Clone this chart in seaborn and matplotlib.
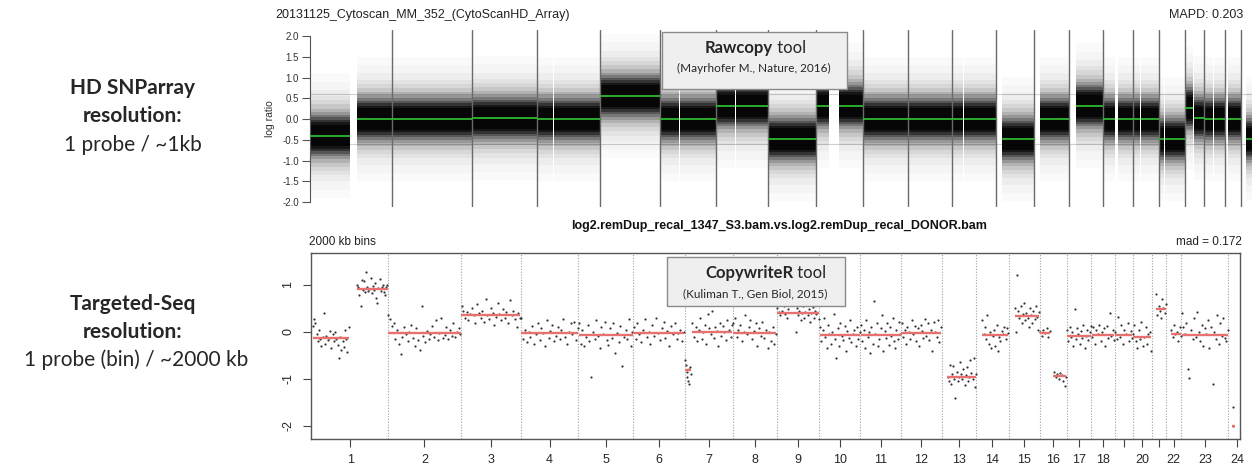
import numpy as np
import pandas as pd
import seaborn as sns
import matplotlib.pyplot as plt
from matplotlib.patches import Rectangle

sns.set_style("white")
plt.rcParams['font.family'] = ['Liberation Sans', 'DejaVu Sans']
LABEL_FONT = ['Lato', 'DejaVu Sans']

# chromosome sizes in Mb (1..22, X=23, Y=24)
chrom_len = [249, 243, 198, 191, 181, 171, 159, 146, 141, 136, 135, 134,
             115, 107, 103, 90, 81, 78, 59, 63, 48, 51, 155, 59]
chrom_labels = ['1', '2', '3', '4', '5', '6', '7', '8', '9', '10', '11', '12',
                '13', '14', '15', '16', '17', '18', '', '20', '', '22', '23', '24']

# --- top panel: SNP array segments (chrom, start Mb, end Mb, log ratio)
top_chr = [1, 1, 2, 2, 3, 3, 4, 4, 5, 5, 6, 6, 7, 7, 8, 8, 9, 9, 10, 10, 11, 11,
           12, 12, 13, 14, 15, 16, 16, 17, 17, 18, 18, 19, 19, 20, 20, 21, 22]
top_start = [0, 143, 0, 94, 0, 92, 0, 51, 0, 49, 0, 61, 0, 61, 0, 46, 0, 70, 0, 41, 0, 54,
             0, 37, 19, 19, 20, 0, 46, 0, 26, 0, 18, 0, 28, 0, 29, 10, 16]
top_end = [121, 249, 92, 243, 90, 198, 49, 191, 47, 181, 59, 171, 59, 159, 44, 146, 39, 141,
           39, 136, 52, 135, 35, 134, 115, 107, 103, 36, 90, 24, 81, 16, 78, 24, 59, 27, 63, 48, 51]
top_mean = [-0.40, 0.0, 0.0, 0.0, 0.02, 0.02, 0.0, 0.0, 0.55, 0.55, 0.0, 0.0, 0.32, 0.32,
            -0.48, -0.48, 0.32, 0.32, 0.0, 0.0, 0.0, 0.0, 0.0, 0.0, -0.48, 0.0, 0.32,
            0.0, 0.0, 0.0, 0.0, -0.48, -0.48, 0.27, 0.02, 0.0, 0.0, 0.0, -0.48]

# --- bottom panel: 2000 kb bin values per chromosome arm
bins_1p = [0.12, 0.28, 0.2, -0.05, -0.2, 0.05, -0.15, -0.3, -0.1, 0.4, -0.25, -0.08, -0.18, -0.12, 0.02,
           -0.35, -0.05, -0.2, 0.0, -0.15, -0.28, -0.55, -0.1, -0.38, -0.2, -0.32, 0.05, -0.15, -0.42, 0.1]
bins_1q = [1.0, 0.95, 0.78, 0.55, 1.1, 0.9, 1.08, 0.85, 1.27, 0.95, 0.88, 0.92, 1.15, 0.82, 0.97, 0.9,
           1.05, 0.72, 0.62, 0.93, 1.12, 0.88, 0.96, 1.0, 0.85, 0.78, 0.95, 1.0]
bins_2 = [0.35, 0.28, 0.12, 0.2, -0.15, 0.05, -0.25, -0.48, -0.1, 0.1, -0.05, -0.2, 0.0, 0.15, -0.12,
          -0.3, 0.08, -0.18, -0.38, 0.55, -0.08, -0.22, 0.02, -0.15, -0.05, 0.12, -0.1, 0.25, -0.18,
          -0.02, 0.3, -0.12, -0.06, 0.1, -0.15, 0.05, -0.08, 0.18, -0.1, 0.0, 0.08, -0.05]
bins_3 = [0.55, 0.45, 0.3, 0.42, 0.25, 0.38, 0.5, 0.35, 0.18, 0.6, 0.4, 0.3, 0.45, 0.22, 0.7, 0.35,
          0.28, 0.5, 0.4, 0.15, 0.32, 0.62, 0.38, 0.25, 0.48, 0.3, 0.42, 0.2, 0.68, 0.35, 0.45, 0.28,
          0.1, 0.4, 0.3]
bins_4 = [0.3, -0.15, 0.05, -0.22, 0.0, -0.1, 0.12, -0.25, -0.05, 0.2, -0.18, 0.08, -0.02, -0.3, 0.25,
          -0.12, 0.02, 0.15, -0.2, -0.08, 0.1, -0.15, 0.05, 0.28, -0.1, -0.25, 0.0, 0.18, -0.05, 0.22,
          -0.18, 0.08]
bins_5 = [0.2, -0.25, 0.05, -0.3, -0.1, 0.15, -0.2, -0.95, 0.0, -0.15, 0.25, -0.08, -0.35, 0.1, -0.05,
          0.22, -0.18, -0.28, 0.08, -0.12, 0.18, -0.45, -0.02, -0.22, 0.12, -0.73, -0.1, 0.05, -0.15,
          0.27, -0.3, 0.0]
bins_6 = [0.1, -0.15, 0.2, -0.05, -0.22, 0.05, 0.28, -0.1, 0.0, -0.25, 0.15, -0.08, 0.3, -0.02, -0.18,
          0.08, 0.22, -0.12, 0.02, -0.3, 0.12, -0.05, 0.18, -0.15, -0.02, 0.05, -0.2, 0.0]
bins_7a = [-0.6, -0.7, -0.85, -0.95, -1.05, -0.8, -1.1, -0.75, -0.9]
bins_7b = [0.2, -0.1, 0.1, -0.2, 0.05, 0.3, -0.15, 0.0, 0.15, -0.25, 0.38, 0.08, -0.05, 0.45, -0.12,
           0.1, 0.02, -0.3, 0.2, -0.08, 0.12, 0.0, -0.18, 0.25, 0.05, -0.1, 0.15]
bins_8 = [0.2, 0.3, -0.1, 0.05, 0.15, -0.2, 0.0, 0.35, -0.05, 0.1, 0.25, -0.15, 0.02, 0.18, -0.3, 0.08,
          -0.08, 0.22, -0.12, 0.05, -0.35, 0.0, -0.2, 0.1, -0.25, -0.05]
bins_9p = [0.5, 0.42, 0.35, 0.45, 0.55, 0.38, 0.3, 0.48]
bins_9q = [0.0, 0.5, 0.35, 0.45, 0.25, 0.4, 0.55, 0.3, 0.42, 0.6, 0.35, 0.48, 0.22, 0.4, 0.52, 0.3,
           0.45, 0.38, 0.6, 0.28]
bins_10 = [0.1, -0.2, 0.05, 0.3, -0.1, -0.35, 0.15, -0.05, -0.25, 0.0, 0.38, -0.15, -0.55, 0.08, -0.3,
           0.2, -0.08, -0.18, 0.12, -0.4, 0.02, -0.12, 0.25, -0.22, -0.05, 0.05, -0.3, 0.1, -0.15, 0.0]
bins_11 = [0.15, -0.2, 0.05, -0.35, 0.25, -0.1, 0.0, -0.45, 0.1, -0.25, 0.65, -0.05, 0.2, -0.3, -0.15,
           0.08, 0.35, -0.4, 0.02, -0.12, 0.18, -0.28, 0.1, -0.08, 0.3, -0.2, -0.35, 0.05, -0.15, 0.22,
           -0.05]
bins_12 = [0.2, -0.1, 0.05, -0.25, 0.1, 0.0, -0.15, 0.25, -0.05, 0.12, -0.2, 0.08, -0.3, 0.15, 0.02,
           -0.12, 0.28, -0.08, 0.18, -0.18, 0.05, -0.4, 0.22, 0.0, -0.1, 0.25, -0.22, 0.1]
bins_13 = [-0.95, -1.05, -0.7, -1.1, -0.9, -0.72, -1.0, -1.4, -0.85, -1.05, -0.95, -0.65, -0.9, -1.0,
           -0.8, -1.12, -0.92, -0.75, -1.05, -0.95, -0.6, -0.88, -1.0, -0.55, -1.18, -0.9]
bins_14 = [0.25, -0.05, 0.1, -0.15, 0.35, -0.25, 0.0, -0.35, -0.08, 0.05, -0.3, 0.15, -0.4, -0.1, -0.2,
           0.02, -0.05, 0.1, -0.15, 0.08, -0.02]
bins_15 = [0.5, 0.0, 1.22, 0.45, 0.3, 0.55, 0.2, 0.38, 0.62, 0.25, 0.4, 0.3, 0.1, 0.5, 0.35, 0.18, 0.45,
           0.28, 0.55, 0.32, 0.05, 0.42]
bins_16p = [0.0, -0.08, 0.05, -0.02, 0.08, -0.1, 0.02]
bins_16q = [-0.85, -0.95, -0.9, -1.0, -0.88, -0.92, -1.05, -1.15, -0.95]
bins_17 = [0.05, -0.2, 0.1, -0.1, 0.0, -0.3, 0.48, -0.15, 0.08, -0.05, -0.25, 0.02, -0.12, 0.15, -0.35,
           -0.08, 0.05, -0.18, 0.0, 0.12]
bins_18 = [-0.1, 0.1, -0.25, 0.05, -0.05, 0.15, -0.2, 0.0, 0.08, -0.3, 0.12, -0.12, 0.4, -0.08, 0.05, -0.18]
bins_19 = [0.0, -0.15, 0.32, -0.1, 0.15, -0.25, 0.05, -0.05, 0.2, -0.2, 0.02, -0.12]
bins_20 = [-0.05, 0.15, -0.2, -0.35, 0.05, -0.15, 0.22, -0.3, -0.1, 0.1, -0.25, -0.05, 0.0, -0.4]
bins_21 = [0.8, 0.35, 0.55, 0.45, 0.3, 0.7, 0.5, 0.4, 0.6]
bins_22 = [0.05, -0.1, 0.15, -0.05, 0.0, -0.2, 0.1, -0.08]
bins_X = [0.4, 0.1, -0.05, 0.2, -0.79, -0.98, 0.05, -0.15, 0.3, -0.1, 0.43, 0.0, -0.2, 0.15, -0.3, 0.08,
          -0.05, 0.25, -0.35, 0.1, -1.11, 0.0, -0.15, 0.37, -0.25, 0.2, -0.08, 0.3, -0.12, -0.2, 0.05]
bins_Y = [-1.6, -2.0]

# (chrom, first bin Mb, last bin Mb, values)
bin_arms = [(1, 1, 120, bins_1p), (1, 148, 248, bins_1q), (2, 2, 241, bins_2), (3, 2, 196, bins_3),
            (4, 2, 189, bins_4), (5, 2, 179, bins_5), (6, 2, 169, bins_6), (7, 2, 20, bins_7a),
            (7, 26, 157, bins_7b), (8, 2, 144, bins_8), (9, 2, 38, bins_9p), (9, 63, 139, bins_9q),
            (10, 2, 134, bins_10), (11, 2, 133, bins_11), (12, 2, 132, bins_12), (13, 20, 114, bins_13),
            (14, 20, 106, bins_14), (15, 21, 102, bins_15), (16, 1, 34, bins_16p), (16, 48, 88, bins_16q),
            (17, 1, 80, bins_17), (18, 1, 77, bins_18), (19, 1, 58, bins_19), (20, 1, 62, bins_20),
            (21, 15, 47, bins_21), (22, 17, 50, bins_22), (23, 1, 154, bins_X), (24, 15, 17, bins_Y)]

# segments of the bottom panel
bot_chr = [1, 1, 2, 3, 4, 5, 6, 7, 7, 8, 9, 10, 11, 12, 13, 14, 15, 16, 16, 17, 18, 19, 20, 21, 22, 23, 24]
bot_start = [1, 148, 1, 1, 1, 1, 1, 1, 25, 1, 1, 1, 1, 1, 19, 19, 20, 1, 46, 1, 1, 1, 1, 14, 16, 1, 13]
bot_end = [120, 249, 242, 197, 190, 180, 170, 22, 158, 145, 140, 135, 134, 133, 114, 106, 102, 35, 89,
           80, 77, 58, 62, 47, 50, 155, 21]
bot_mean = [-0.12, 0.92, -0.02, 0.35, -0.02, -0.07, -0.03, -0.82, 0.0, -0.03, 0.4, -0.07, -0.07, -0.03,
            -0.95, -0.07, 0.33, -0.02, -0.93, -0.08, -0.06, -0.06, -0.1, 0.49, -0.05, -0.07, -2.0]

offsets = np.concatenate([[0], np.cumsum(chrom_len)[:-1]])
ends = np.cumsum(chrom_len)
centers = offsets + np.array(chrom_len) / 2

W, H = 1252, 467
fig = plt.figure(figsize=(W / 100, H / 100), dpi=100)

# ---------------- top panel
ax1 = fig.add_axes([310 / W, 1 - 207 / H, (W - 310) / W, 177 / H])
tx0 = offsets[np.array(top_chr) - 1] + np.array(top_start)
tx1 = offsets[np.array(top_chr) - 1] + np.array(top_end)
for y in (0.6, -0.6):
    ax1.axhline(y, color='#d0d0d0', lw=0.8, zorder=0)
# stacked translucent bands give the look of the dense probe cloud
layers = [(1.5, 0.02), (1.3, 0.02), (1.1, 0.03), (0.95, 0.04), (0.85, 0.05), (0.75, 0.07),
          (0.65, 0.1), (0.57, 0.15), (0.5, 0.2), (0.44, 0.28), (0.38, 0.4), (0.32, 0.55), (0.26, 0.7)]
for a, b, m in zip(tx0, tx1, top_mean):
    for hw, al in layers:
        ax1.fill_between([a, b], m - hw, m + hw, color='black', alpha=al, lw=0, zorder=1)
for xe in ends[:22]:
    ax1.axvline(xe, color='#6a6a6a', lw=1.0, zorder=3)
ax1.hlines(top_mean, tx0, tx1, colors='#2eb82e', lw=1.3, zorder=4)
ax1.set_xlim(-1, 2862)
ax1.set_ylim(-2.12, 2.145)
ax1.set_yticks(np.arange(-2, 2.01, 0.5))
ax1.set_yticklabels([f'{v:.1f}' for v in np.arange(-2, 2.01, 0.5)], fontsize=7, color='#333')
ax1.set_xticks([])
for s in ('top', 'right', 'bottom'):
    ax1.spines[s].set_visible(False)
ax1.spines['left'].set_bounds(-2, 2)
ax1.spines['left'].set_color('#555')
ax1.spines['left'].set_linewidth(0.8)
ax1.tick_params(axis='y', length=6, width=0.8, color='#555', pad=2, left=True)
ax1.patch.set_alpha(0)

fig.text(275 / W, 1 - 15 / H, '20131125_Cytoscan_MM_352_(CytoScanHD_Array)', ha='left', va='center',
         fontsize=9, color='#222')
fig.text(1243 / W, 1 - 15 / H, 'MAPD: 0.203', ha='right', va='center', fontsize=9, color='#222')
fig.text(270 / W, 1 - 119 / H, 'log ratio', rotation=90, ha='center', va='center', fontsize=7.5, color='#333')

# ---------------- bottom panel
rows = []
for c, s, e, vals in bin_arms:
    pos = offsets[c - 1] + np.linspace(s, e, len(vals))
    rows.append(pd.DataFrame({'pos': pos, 'log2': vals}))
df_bins = pd.concat(rows, ignore_index=True)

ax2 = fig.add_axes([311 / W, 1 - 439 / H, 929 / W, 186 / H])
for xe in ends[:23]:
    ax2.axvline(xe, color='#a0a0a0', lw=0.8, ls=(0, (1, 1.5)), zorder=1)
sns.scatterplot(data=df_bins, x='pos', y='log2', ax=ax2, color='#333333', s=2.5, linewidth=0,
                legend=False, zorder=2)
bx0 = offsets[np.array(bot_chr) - 1] + np.array(bot_start)
bx1 = offsets[np.array(bot_chr) - 1] + np.array(bot_end)
ax2.hlines(bot_mean, bx0, bx1, colors='#e8706f', lw=1.7, zorder=3)
ax2.set_xlim(-5, 3073)
ax2.set_ylim(-2.28, 1.68)
ax2.set_xticks(centers)
ax2.set_xticklabels(chrom_labels, fontsize=9)
ax2.set_yticks([1, 0, -1, -2])
ax2.set_yticklabels(['1', '0', '-1', '-2'], rotation=90, va='center', fontsize=9)
ax2.set_xlabel('')
ax2.set_ylabel('')
ax2.tick_params(axis='both', length=6, width=0.8, color='#444', bottom=True, left=True)
ax2.tick_params(axis='x', pad=5)
ax2.tick_params(axis='y', pad=6)
for s in ax2.spines.values():
    s.set_color('#555')
    s.set_linewidth(1.0)

fig.text(779 / W, 1 - 226 / H, 'log2.remDup_recal_1347_S3.bam.vs.log2.remDup_recal_DONOR.bam',
         ha='center', va='center', fontsize=9, fontweight='bold', color='#111')
fig.text(309 / W, 1 - 242 / H, '2000 kb bins', ha='left', va='center', fontsize=8.5, color='#222')
fig.text(1242 / W, 1 - 242 / H, 'mad = 0.172', ha='right', va='center', fontsize=8.5, color='#222')

# ---------------- tool boxes
fig.add_artist(Rectangle((662 / W, 1 - 89 / H), 185 / W, 57 / H, transform=fig.transFigure,
                         facecolor='#efefef', edgecolor='#8a8a8a', lw=1, zorder=5))
fig.text(773 / W, 1 - 48 / H, 'Rawcopy', ha='right', va='center', fontsize=12, fontweight='bold',
         family=LABEL_FONT, zorder=6)
fig.text(773 / W, 1 - 48 / H, ' tool', ha='left', va='center', fontsize=12, family=LABEL_FONT, zorder=6)
fig.text(754 / W, 1 - 68 / H, '(Mayrhofer M., Nature, 2016)', ha='center', va='center', fontsize=8.5,
         family=LABEL_FONT, zorder=6)

fig.add_artist(Rectangle((667 / W, 1 - 306 / H), 178 / W, 49 / H, transform=fig.transFigure,
                         facecolor='#efefef', edgecolor='#8a8a8a', lw=1, zorder=5))
fig.text(793 / W, 1 - 273 / H, 'CopywriteR', ha='right', va='center', fontsize=12, fontweight='bold',
         family=LABEL_FONT, zorder=6)
fig.text(793 / W, 1 - 273 / H, ' tool', ha='left', va='center', fontsize=12, family=LABEL_FONT, zorder=6)
fig.text(755 / W, 1 - 294 / H, '(Kuliman T., Gen Biol, 2015)', ha='center', va='center', fontsize=8.5,
         family=LABEL_FONT, zorder=6)

# ---------------- side labels
fig.text(133 / W, 1 - 94 / H, 'HD SNParray', ha='center', va='baseline', fontsize=15, fontweight='bold',
         family=LABEL_FONT)
fig.text(133 / W, 1 - 122 / H, 'resolution:', ha='center', va='baseline', fontsize=15, fontweight='bold',
         family=LABEL_FONT)
fig.text(133 / W, 1 - 151 / H, '1 probe / ~1kb', ha='center', va='baseline', fontsize=15, family=LABEL_FONT)
fig.text(133 / W, 1 - 310 / H, 'Targeted-Seq', ha='center', va='baseline', fontsize=15, fontweight='bold',
         family=LABEL_FONT)
fig.text(133 / W, 1 - 338 / H, 'resolution:', ha='center', va='baseline', fontsize=15, fontweight='bold',
         family=LABEL_FONT)
fig.text(136 / W, 1 - 366 / H, '1 probe (bin) / ~2000 kb', ha='center', va='baseline', fontsize=15,
         family=LABEL_FONT)

fig.savefig('out.png', dpi=100)
